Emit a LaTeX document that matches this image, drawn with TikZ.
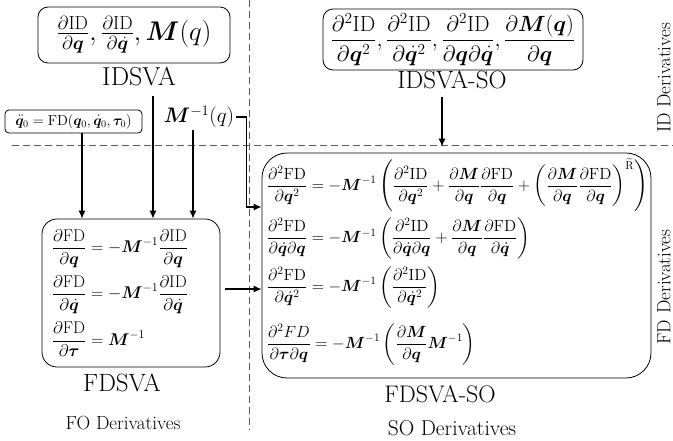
\RequirePackage{fix-cm}
\documentclass[tikz,border=0pt]{standalone}
\usepackage{amsmath}
\usepackage{bm}
\usetikzlibrary{arrows.meta}
\newcommand{\fs}[1]{\fontsize{#1}{#1}\selectfont}
\newcommand{\bq}{\bm{q}}
\newcommand{\bqd}{\dot{\bm{q}}}
\newcommand{\bM}{\bm{M}}
\newcommand{\rmID}{\mathrm{ID}}
\newcommand{\rmFD}{\mathrm{FD}}
\tikzset{
  rbox/.style={draw, line width=0.8pt, rounded corners=#1},
  lbl/.style={inner sep=0pt, font=\fs{24}},
  dlbl/.style={inner sep=0pt, font=\fs{19}},
  arr/.style={line width=1.2pt, -{Latex[length=8pt,width=7pt]}},
  sep/.style={dash pattern=on 7pt off 4pt, line width=0.8pt, black!65},
}
\begin{document}
\begin{tikzpicture}[x=1pt,y=-1pt]
\useasboundingbox (0,0) rectangle (673,440);
% separators
\draw[sep] (12,145) coordinate (hl) -- (673,145) coordinate (hr);
\draw[sep] (249,0) coordinate (vt) -- (249,430) coordinate (vb);
% top-left
\node[rbox=10pt, minimum width=192pt, minimum height=56pt, inner sep=0pt, font=\fs{27}] (idbox) at (134,35)
  {$\frac{\partial\rmID}{\partial\bq},\frac{\partial\rmID}{\partial\bqd},\bM(q)$};
\node[lbl, font=\fs{26}] (idsva) at (139,77) {IDSVA};
\node[rbox=4pt, minimum width=137pt, minimum height=23pt, inner sep=0pt, font=\fs{14.5}] (q0box) at (73.5,121.5)
  {$\ddot{\bq}_0=\rmFD(\bq_0,\dot{\bq}_0,\bm{\tau}_0)$};
\node[inner sep=0pt, font=\fs{21}] (minv) at (199,117) {$\bM^{-1}(q)$};
% FDSVA
\node[rbox=15pt, text width=158pt, inner xsep=10pt, inner ysep=0pt, minimum height=148pt, align=left, font=\fs{17}] (fdsva) at (131,293)
  {$\displaystyle\frac{\partial\rmFD}{\partial\bq}=-\bM^{-1}\frac{\partial\rmID}{\partial\bq}$\\[7pt]
   $\displaystyle\frac{\partial\rmFD}{\partial\bqd}=-\bM^{-1}\frac{\partial\rmID}{\partial\bqd}$\\[7pt]
   $\displaystyle\frac{\partial\rmFD}{\partial\bm{\tau}}=\bM^{-1}$};
\node[lbl, font=\fs{25}] (fdsvalbl) at (122,383) {FDSVA};
\node[dlbl] (fo) at (123,423) {FO Derivatives};
% IDSVA-SO
\node[rbox=10pt, minimum width=260pt, minimum height=61pt, inner sep=0pt, font=\fs{22}] (idsobox) at (453,39.5)
  {$\displaystyle\frac{\partial^2\rmID}{\partial\bq^2},\frac{\partial^2\rmID}{\partial\bqd^2},\frac{\partial^2\rmID}{\partial\bq\partial\bqd},\frac{\partial\bM(\bq)}{\partial\bq}$};
\node[lbl, font=\fs{25}] (idsvaso) at (452,80) {IDSVA-SO};
% FDSVA-SO
\node[rbox=25pt, text width=379pt, inner xsep=5pt, inner ysep=0pt, minimum height=225pt, align=left, font=\fs{16.2}] (fdso) at (456.5,265.5)
  {\rule{0pt}{0pt}\\[-8pt]
   $\displaystyle\frac{\partial^2\rmFD}{\partial\bq^2}=-\bM^{-1}\left(\frac{\partial^2\rmID}{\partial\bq^2}+\frac{\partial\bM}{\partial\bq}\frac{\partial\rmFD}{\partial\bq}+\left(\frac{\partial\bM}{\partial\bq}\frac{\partial\rmFD}{\partial\bq}\right)^{\widetilde{\mathrm{R}}}\right)$\\[5pt]
   $\displaystyle\frac{\partial^2\rmFD}{\partial\bqd\partial\bq}=-\bM^{-1}\left(\frac{\partial^2\rmID}{\partial\bqd\partial\bq}+\frac{\partial\bM}{\partial\bq}\frac{\partial\rmFD}{\partial\bqd}\right)$\\[6pt]
   $\displaystyle\frac{\partial^2\rmFD}{\partial\bqd^2}=-\bM^{-1}\left(\frac{\partial^2\rmID}{\partial\bqd^2}\right)$\\[15pt]
   $\displaystyle\frac{\partial^2 FD}{\partial\bm{\tau}\partial\bq}=-\bM^{-1}\left(\frac{\partial\bM}{\partial\bq}\bM^{-1}\right)$};
\node[lbl, font=\fs{24}] (fdsolbl) at (440,394) {FDSVA-SO};
\node[dlbl, font=\fs{21.5}] (so) at (452,428) {SO Derivatives};
% side labels
\node[dlbl, rotate=90] (idd) at (664,78) {ID Derivatives};
\node[dlbl, rotate=90] (fdd) at (664,287) {FD Derivatives};
% connectors
\draw[arr] ([xshift=8.5pt]q0box.south) -- ([xshift=8.5pt]q0box.south |- fdsva.north);
\draw[arr] ([xshift=14pt,yshift=-9pt]idsva.south) -- ([xshift=14pt]idsva.south |- fdsva.north);
\draw[arr] ([xshift=-6pt,yshift=-2pt]minv.south) -- ([xshift=-6pt]minv.south |- fdsva.north);
\draw[arr] ([xshift=2pt]minv.east) -- ++(10pt,0) |- ([yshift=58.5pt]fdso.west);
\draw[arr] ([xshift=5pt,yshift=4pt]fdsva.east) -- ([yshift=4pt]fdsva.east -| fdso.west);
\draw[arr, shorten >=6pt] ([xshift=-10pt,yshift=-8pt]idsvaso.south) -- ([xshift=-10pt]idsvaso.south |- fdso.north);
\end{tikzpicture}
\end{document}
